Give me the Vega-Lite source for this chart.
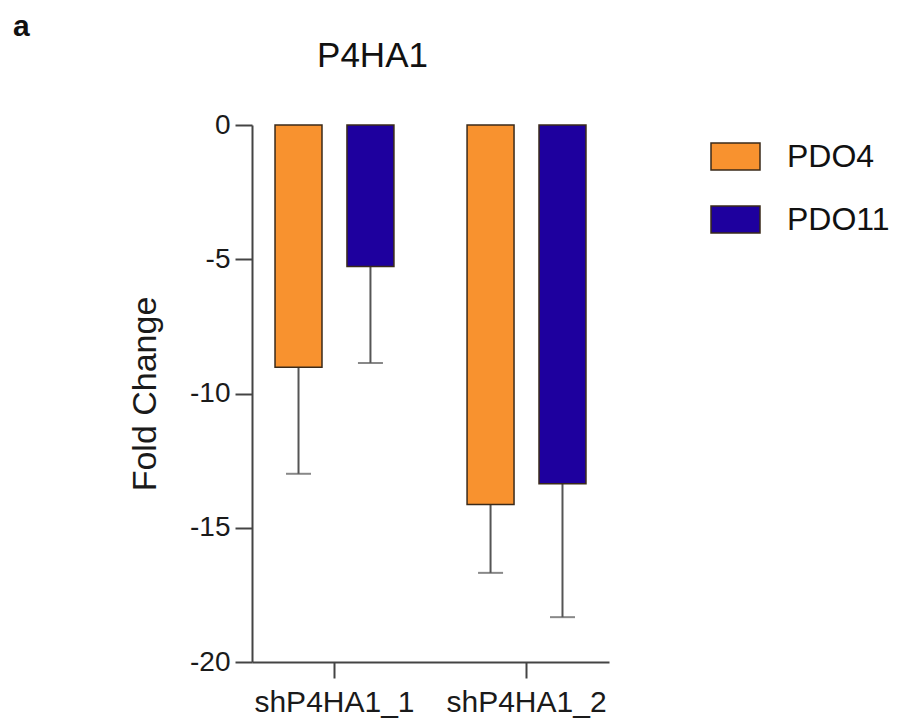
{
  "$schema": "https://vega.github.io/schema/vega-lite/v6.json",
  "background": "white",
  "padding": {"left": 13, "top": 12, "right": 5, "bottom": 5},
  "title": {"text": "a", "anchor": "start", "frame": "group", "font": "Liberation Sans", "fontSize": 30, "fontWeight": "bold", "color": "#111111", "dx": -239, "offset": -3},
  "config": {
    "font": "Liberation Sans",
    "view": {"stroke": null},
    "axis": {"labelFont": "Liberation Sans", "titleFont": "Liberation Sans", "labelColor": "#1a1a1a", "titleColor": "#1a1a1a", "domainColor": "#444444", "tickColor": "#444444", "domainWidth": 2, "tickWidth": 2, "grid": false}
  },
  "datasets": {
    "bars": [
      {"group": "shP4HA1_1", "line": "PDO4", "mean": -9.02, "low": -12.99},
      {"group": "shP4HA1_1", "line": "PDO11", "mean": -5.27, "low": -8.86},
      {"group": "shP4HA1_2", "line": "PDO4", "mean": -14.13, "low": -16.68},
      {"group": "shP4HA1_2", "line": "PDO11", "mean": -13.36, "low": -18.33}
    ]
  },
  "vconcat": [
    {
      "width": 357,
      "height": 537,
      "title": {"text": "P4HA1", "font": "Liberation Sans", "fontSize": 35, "fontWeight": "normal", "color": "#111111", "dx": -58, "offset": 37, "anchor": "middle"},
      "data": {"name": "bars"},
      "encoding": {
        "x": {"field": "group", "type": "nominal", "sort": ["shP4HA1_1", "shP4HA1_2"],
          "scale": {"paddingInner": 0.141, "paddingOuter": 0},
          "axis": {"title": null, "labelAngle": 0, "labelFontSize": 30, "tickSize": 16, "labelPadding": 9, "domain": true}},
        "xOffset": {"field": "line", "type": "nominal", "scale": {"domain": ["PDO4", "PDO11"], "paddingInner": 0.347, "paddingOuter": 0.32}}
      },
      "layer": [
        {
          "mark": {"type": "rule", "color": "#555555", "strokeWidth": 2},
          "encoding": {"y": {"field": "mean", "type": "quantitative"}, "y2": {"field": "low"}}
        },
        {
          "mark": {"type": "tick", "color": "#555555", "thickness": 2, "size": 25, "orient": "horizontal"},
          "encoding": {"y": {"field": "low", "type": "quantitative"}}
        },
        {
          "mark": {"type": "bar", "stroke": "#3a2a1a", "strokeWidth": 1.5},
          "encoding": {
            "y": {"field": "mean", "type": "quantitative", "scale": {"domain": [-20, 0], "nice": false, "zero": true},
              "axis": {"title": "Fold Change", "titleFontSize": 34, "titleFontWeight": "normal", "titlePadding": 27, "values": [-20, -15, -10, -5, 0], "labelExpr": "toString(datum.value)", "labelFontSize": 28, "tickSize": 17, "labelPadding": 5}},
            "color": {"field": "line", "type": "nominal",
              "scale": {"domain": ["PDO4", "PDO11"], "range": ["#F8922F", "#1E009E"]},
              "legend": {"title": null, "orient": "none", "legendX": 458, "legendY": 6, "labelFontSize": 32, "labelColor": "#111111", "labelFont": "Liberation Sans",
                "symbolType": "M-1,-0.55H1V0.55H-1Z", "symbolSize": 2401, "symbolStrokeColor": "#3a2a1a", "symbolStrokeWidth": 1.5, "symbolOpacity": 1, "labelOffset": 26, "rowPadding": 21}}
          }
        },
        {
          "mark": {"type": "rule", "color": "#555555", "strokeWidth": 2},
          "encoding": {"y": {"datum": 0}}
        }
      ]
    }
  ]
}
